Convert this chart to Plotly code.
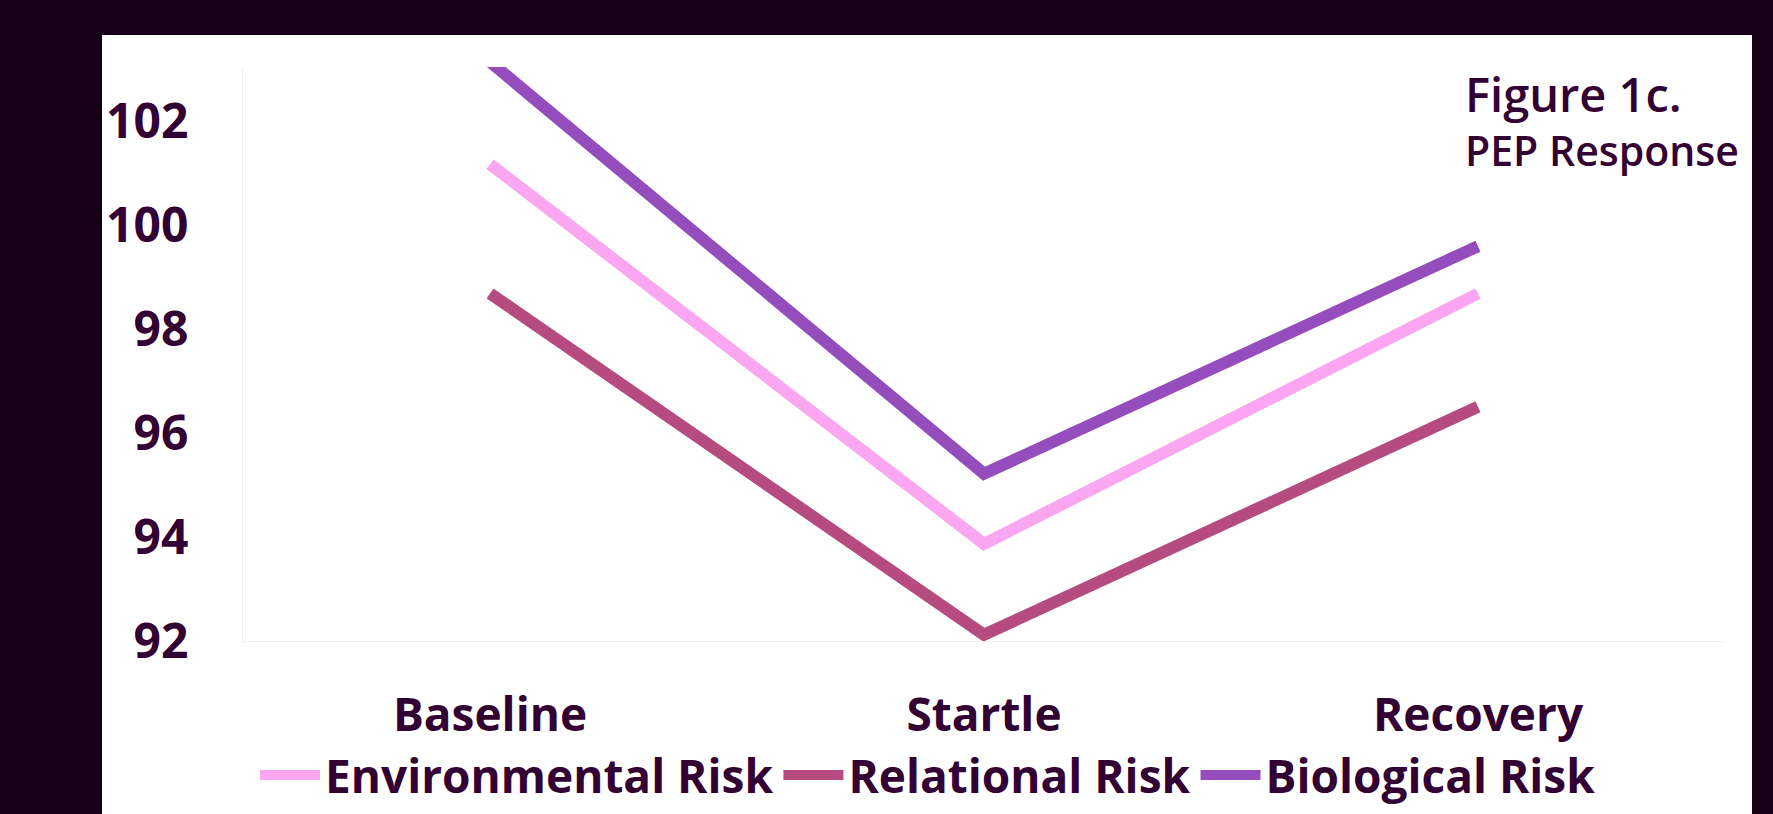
import plotly.graph_objects as go

categories = ["Baseline", "Startle", "Recovery"]
environmental = [101.18, 93.87, 98.69]
relational = [98.69, 92.12, 96.51]
biological = [103.15, 95.22, 99.60]
y_ticks = [92, 94, 96, 98, 100, 102]

series = [
    ("Environmental Risk", environmental, "#FBA6F0"),
    ("Relational Risk", relational, "#B64B80"),
    ("Biological Risk", biological, "#954CBC"),
]

W, H = 1773, 814
L, R, T, B = 243, 48, 67, 173
PW, PH = W - L - R, H - T - B
TXT = "#330033"
BG = "#150017"


def px(x):
    return (x - L) / PW


def py(y):
    return (H - B - y) / PH


fig = go.Figure()
for name, vals, col in series:
    fig.add_trace(go.Scatter(
        x=categories, y=vals, name=name, mode="lines",
        line=dict(color=col, width=12),
    ))

fig.update_layout(
    width=W, height=H,
    margin=dict(l=L, r=R, t=T, b=B, autoexpand=False),
    paper_bgcolor=BG,
    plot_bgcolor="white",
    showlegend=True,
    legend=dict(
        orientation="h", x=px(928), xanchor="center",
        y=py(775), yanchor="middle",
        font=dict(family="Open Sans", size=46, color=TXT, weight="bold"),
        bgcolor="rgba(0,0,0,0)", itemwidth=60,
    ),
    xaxis=dict(
        type="category", range=[-0.5, 2.5],
        showline=True, linecolor="#f0f0f0", linewidth=1,
        showgrid=False, zeroline=False, ticks="",
        tickfont=dict(family="Open Sans", size=46, color=TXT, weight="bold"),
        ticklabelstandoff=34,
    ),
    yaxis=dict(
        range=[92, 103.05], tickvals=y_ticks,
        showline=True, linecolor="#f0f0f0", linewidth=1,
        showgrid=False, zeroline=False, ticks="",
        tickfont=dict(family="Open Sans", size=48, color=TXT, weight="bold"),
        ticklabelstandoff=44,
    ),
    shapes=[dict(
        type="rect", xref="paper", yref="paper", layer="below",
        x0=px(102), x1=px(1752), y0=py(814), y1=py(35),
        fillcolor="white", line=dict(width=0),
    )],
    annotations=[
        dict(text="Figure 1c.", xref="paper", yref="paper",
             x=px(1463), y=py(94), xanchor="left", yanchor="middle",
             showarrow=False,
             font=dict(family="Open Sans", size=47, color=TXT, weight=600)),
        dict(text="PEP Response", xref="paper", yref="paper",
             x=px(1463), y=py(150), xanchor="left", yanchor="middle",
             showarrow=False,
             font=dict(family="Open Sans", size=41, color=TXT, weight=600)),
    ],
)

fig.write_html("out.html")
